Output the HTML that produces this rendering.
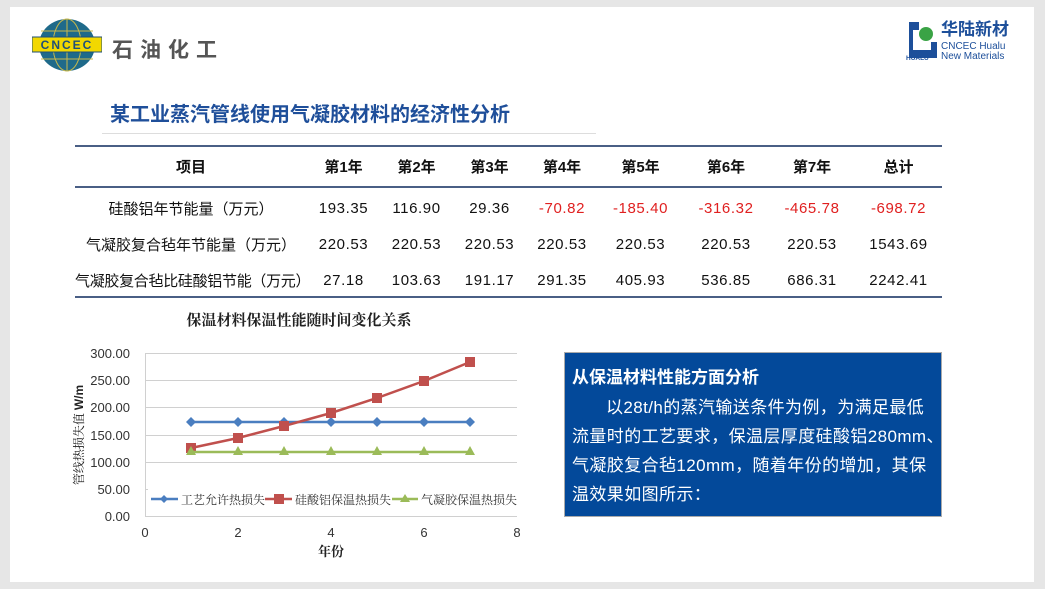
<!DOCTYPE html>
<html><head><meta charset="utf-8"><style>
body{margin:0;width:1045px;height:589px;background:#e6e6e6;position:relative;overflow:hidden;font-family:"Liberation Sans","Noto Sans CJK SC",sans-serif}
.slide{position:absolute;left:10px;top:7px;width:1024px;height:575px;background:#fff}
.a{position:absolute;white-space:nowrap}
table{position:absolute;left:75px;top:145px;width:867px;border-collapse:collapse;font-size:15px;color:#111}
td{text-align:center;padding:0;height:36px;letter-spacing:0.6px}
td:first-child{letter-spacing:0}
tr.h td{font-weight:bold;height:39px;border-top:2px solid #4a5f85;border-bottom:2px solid #4a5f85;letter-spacing:0}
tr.d td{position:relative;top:2px}
.r{color:#e02020}
</style></head><body>
<div class="slide"></div>
<svg class="a" style="left:32px;top:17px" width="70" height="56" viewBox="0 0 70 56">
<ellipse cx="35" cy="28" rx="28" ry="26" fill="#1f6a8a"/>
<g stroke="#c8b84a" stroke-width="1" fill="none"><ellipse cx="35" cy="28" rx="14" ry="26"/><line x1="35" y1="2" x2="35" y2="54"/><line x1="9" y1="14" x2="61" y2="14"/><line x1="9" y1="42" x2="61" y2="42"/></g>
<rect x="0" y="20" width="70" height="15" fill="#f2d800" stroke="#1f4f7a"/>
<text x="35" y="32" font-size="12" font-weight="bold" text-anchor="middle" fill="#1f4f7a" font-family="Liberation Sans" letter-spacing="2">CNCEC</text>
</svg>
<div class="a" style="left:112px;top:34px;font-size:21px;font-weight:bold;color:#555;letter-spacing:7px">石油化工</div>
<svg class="a" style="left:906px;top:20px" width="34" height="42"><path d="M3 2h10v8h-6v20h18v-8h6v16H3z" fill="#1d4f9a"/><circle cx="20" cy="14" r="7" fill="#3aa345"/><text x="0" y="40" font-size="6.5" font-weight="bold" fill="#1d4f9a" font-family="Liberation Sans">HUALU</text></svg>
<div class="a" style="left:941px;top:20px;font-size:17px;line-height:20px;font-weight:bold;color:#1d4f9a">华陆新材</div>
<div class="a" style="left:941px;top:41px;font-size:10px;line-height:11px;color:#1d4f9a">CNCEC Hualu</div>
<div class="a" style="left:941px;top:51px;font-size:10px;line-height:11px;color:#1d4f9a">New Materials</div>
<div class="a" style="left:110px;top:98px;font-size:20px;font-weight:bold;color:#1f4f9a">某工业蒸汽管线使用气凝胶材料的经济性分析</div>
<div class="a" style="left:102px;top:133px;width:494px;height:1px;background:#ddd"></div>
<table>
<colgroup><col style="width:232px"><col style="width:73px"><col style="width:73px"><col style="width:73px"><col style="width:72px"><col style="width:85px"><col style="width:86px"><col style="width:86px"><col style="width:87px"></colgroup>
<tr class="h"><td>项目</td><td>第1年</td><td>第2年</td><td>第3年</td><td>第4年</td><td>第5年</td><td>第6年</td><td>第7年</td><td>总计</td></tr>
<tr class="d"><td>硅酸铝年节能量（万元）</td><td>193.35</td><td>116.90</td><td>29.36</td><td class="r">-70.82</td><td class="r">-185.40</td><td class="r">-316.32</td><td class="r">-465.78</td><td class="r">-698.72</td></tr>
<tr class="d"><td>气凝胶复合毡年节能量（万元）</td><td>220.53</td><td>220.53</td><td>220.53</td><td>220.53</td><td>220.53</td><td>220.53</td><td>220.53</td><td>1543.69</td></tr>
<tr class="d"><td style="letter-spacing:-0.3px">气凝胶复合毡比硅酸铝节能（万元）</td><td>27.18</td><td>103.63</td><td>191.17</td><td>291.35</td><td>405.93</td><td>536.85</td><td>686.31</td><td>2242.41</td></tr>
</table>
<div class="a" style="left:75px;top:296px;width:867px;height:2px;background:#4a5f85"></div>
<svg class="a" style="left:0;top:300px" width="560" height="270" font-family="Liberation Serif,Noto Serif CJK SC,serif">
<text x="299" y="25" font-size="15" font-weight="bold" text-anchor="middle" fill="#222">保温材料保温性能随时间变化关系</text>
<g stroke="#d0d0d0" stroke-width="1">
<line x1="145" y1="53.5" x2="517" y2="53.5"/><line x1="145" y1="80.5" x2="517" y2="80.5"/><line x1="145" y1="107.5" x2="517" y2="107.5"/><line x1="145" y1="135.5" x2="517" y2="135.5"/><line x1="145" y1="162.5" x2="517" y2="162.5"/><line x1="145" y1="189.5" x2="517" y2="189.5"/><line x1="145" y1="216.5" x2="517" y2="216.5"/>
<line x1="145.5" y1="53" x2="145.5" y2="216"/></g>
<g font-size="13" text-anchor="end" fill="#333" font-family="Liberation Sans">
<text x="130" y="58">300.00</text><text x="130" y="85">250.00</text><text x="130" y="112">200.00</text><text x="130" y="140">150.00</text><text x="130" y="167">100.00</text><text x="130" y="194">50.00</text><text x="130" y="221">0.00</text></g>
<g font-size="13" text-anchor="middle" fill="#333" font-family="Liberation Sans">
<text x="145" y="237">0</text><text x="238" y="237">2</text><text x="331" y="237">4</text><text x="424" y="237">6</text><text x="517" y="237">8</text></g>
<text x="331" y="256" font-size="13" font-weight="bold" text-anchor="middle" fill="#222">年份</text>
<text transform="translate(83,135) rotate(-90)" font-size="12" text-anchor="middle" fill="#222">管线热损失值 <tspan font-weight="bold" font-family="Liberation Sans">W/m</tspan></text>
<polyline points="191,122 238,122 284,122 331,122 377,122 424,122 470,122" fill="none" stroke="#4a7ec0" stroke-width="2.5"/>
<g fill="#4a7ec0"><path d="M191 117l5 5-5 5-5-5z"/><path d="M238 117l5 5-5 5-5-5z"/><path d="M284 117l5 5-5 5-5-5z"/><path d="M331 117l5 5-5 5-5-5z"/><path d="M377 117l5 5-5 5-5-5z"/><path d="M424 117l5 5-5 5-5-5z"/><path d="M470 117l5 5-5 5-5-5z"/></g>
<polyline points="191,148 238,138 284,126 331,113 377,98 424,81 470,62" fill="none" stroke="#c0504d" stroke-width="2.5"/>
<g fill="#c0504d"><rect x="186" y="143" width="10" height="10"/><rect x="233" y="133" width="10" height="10"/><rect x="279" y="121" width="10" height="10"/><rect x="326" y="108" width="10" height="10"/><rect x="372" y="93" width="10" height="10"/><rect x="419" y="76" width="10" height="10"/><rect x="465" y="57" width="10" height="10"/></g>
<polyline points="191,152 238,152 284,152 331,152 377,152 424,152 470,152" fill="none" stroke="#9bbb59" stroke-width="2.5"/>
<g fill="#9bbb59"><path d="M191 146l5 9h-10z"/><path d="M238 146l5 9h-10z"/><path d="M284 146l5 9h-10z"/><path d="M331 146l5 9h-10z"/><path d="M377 146l5 9h-10z"/><path d="M424 146l5 9h-10z"/><path d="M470 146l5 9h-10z"/></g>
<rect x="148" y="189" width="372" height="18" fill="#fff"/>
<g font-size="12" fill="#333">
<line x1="151" y1="199" x2="178" y2="199" stroke="#4a7ec0" stroke-width="2.5"/><path d="M164 195l4 4-4 4-4-4z" fill="#4a7ec0"/><text x="181" y="204">工艺允许热损失</text>
<line x1="265" y1="199" x2="292" y2="199" stroke="#c0504d" stroke-width="2.5"/><rect x="274" y="194" width="10" height="10" fill="#c0504d"/><text x="295" y="204">硅酸铝保温热损失</text>
<line x1="392" y1="199" x2="418" y2="199" stroke="#9bbb59" stroke-width="2.5"/><path d="M405 194l5 8h-10z" fill="#9bbb59"/><text x="421" y="204">气凝胶保温热损失</text></g>
</svg>
<div class="a" style="left:564px;top:352px;width:376px;height:163px;background:#03499a;border:1px solid #aaa"></div>
<div class="a" style="left:572px;top:363px;font-size:17px;font-weight:bold;color:#fff">从保温材料性能方面分析</div>
<div class="a" style="left:572px;top:393px;font-size:17px;line-height:29px;color:#fff;letter-spacing:0.4px"><span style="padding-left:34px"></span>以28t/h的蒸汽输送条件为例，为满足最低<br>流量时的工艺要求，保温层厚度硅酸铝280mm、<br>气凝胶复合毡120mm，随着年份的增加，其保<br>温效果如图所示：</div>
</body></html>
